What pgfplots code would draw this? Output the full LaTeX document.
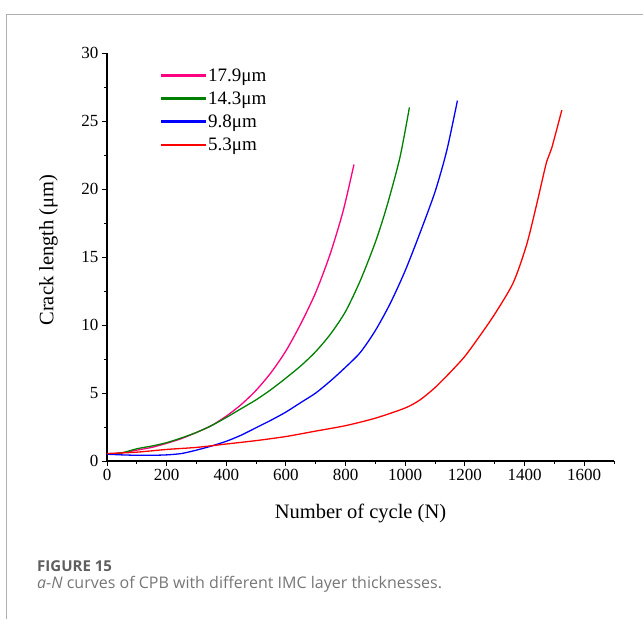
\documentclass[border=0pt]{standalone}
\usepackage{fontspec}
\setmainfont{Liberation Serif}
\newfontfamily\capfont{Open Sans}
\usepackage{pgfplots}
\pgfplotsset{compat=1.18}
\definecolor{cpink}{RGB}{255,0,128}
\definecolor{cgreen}{RGB}{0,128,0}
\definecolor{cblue}{RGB}{0,0,255}
\definecolor{cred}{RGB}{255,0,0}
\definecolor{capgray}{RGB}{95,95,95}
\definecolor{captext}{RGB}{118,118,118}
\definecolor{framegray}{RGB}{175,175,175}
\begin{document}
\begin{tikzpicture}[x=1pt,y=1pt]
\useasboundingbox (0,0) rectangle (643,619);
\draw[framegray, line width=1pt] (6,0) -- (6,604) -- (643,604);
\begin{axis}[
  at={(107pt,158pt)}, anchor=south west,
  scale only axis, width=507pt, height=408pt,
  xmin=0, xmax=1700, ymin=0, ymax=30,
  axis x line*=bottom, axis y line*=left,
  axis line style={-, line width=1.2pt, black},
  xtick={0,200,...,1600}, ytick={0,5,...,30},
  minor xtick={100,300,...,1700}, minor ytick={2.5,7.5,...,27.5},
  tick align=outside, major tick length=5pt, minor tick length=3pt,
  tick style={line width=1pt, black},
  /pgf/number format/assume math mode=true,
  /pgf/number format/1000 sep={},
  ticklabel style={font=\fontsize{17}{17}\selectfont},
  xlabel={Number of cycle (N)},
  ylabel={Crack length (μm)},
  label style={font=\fontsize{20.5}{20.5}\selectfont},
  xlabel style={at={(axis description cs:0.5,-0.1275)}, anchor=center},
  ylabel style={at={(axis description cs:-0.1154,0.517)}, anchor=center},
  legend style={draw=none, at={(axis description cs:0.100,0.972)}, anchor=north west,
    font=\fontsize{19}{19}\selectfont, row sep=5pt},
  legend cell align=left,
  legend image code/.code={\fill[#1] (0pt,-0.8pt) rectangle (44pt,0.8pt);},
  every axis plot/.append style={line width=1.3pt},
]
\addplot[cpink, smooth, tension=0.45] coordinates {(0,0.5)(50,0.6)(100,0.8)(150,1.0)(200,1.3)(250,1.65)(300,2.1)(350,2.6)(400,3.3)(450,4.15)(500,5.2)(550,6.5)(600,8.1)(650,10.1)(700,12.4)(748,15.2)(792,18.4)(828,21.8)};
\addlegendentry{17.9μm}
\addplot[cgreen, smooth, tension=0.45] coordinates {(0,0.5)(50,0.6)(100,0.9)(150,1.1)(200,1.35)(250,1.7)(300,2.1)(350,2.6)(400,3.2)(450,3.85)(500,4.5)(550,5.25)(600,6.1)(650,7.0)(700,8.05)(750,9.35)(800,11.0)(850,13.3)(900,16.1)(938,18.7)(982,22.3)(1014,26.0)};
\addlegendentry{14.3μm}
\addplot[cblue, smooth, tension=0.45] coordinates {(0,0.5)(50,0.45)(100,0.42)(150,0.42)(200,0.45)(250,0.55)(300,0.8)(350,1.1)(400,1.45)(450,1.9)(500,2.45)(550,3.0)(600,3.6)(650,4.3)(700,5.0)(750,5.9)(800,6.9)(850,8.0)(900,9.6)(950,11.6)(1000,14.0)(1050,16.8)(1100,19.8)(1139,22.8)(1175,26.5)};
\addlegendentry{9.8μm}
\addplot[cred, smooth, tension=0.45] coordinates {(0,0.55)(100,0.65)(200,0.85)(300,1.0)(400,1.25)(500,1.5)(600,1.8)(700,2.2)(800,2.6)(900,3.15)(1000,3.9)(1050,4.5)(1100,5.4)(1150,6.5)(1200,7.7)(1250,9.2)(1300,10.8)(1362,13.1)(1407,15.9)(1441,18.9)(1474,22.0)(1491,23.0)(1525,25.8)};
\addlegendentry{5.3μm}
\end{axis}
\node[anchor=west, inner sep=0, text=capgray, font=\capfont\fontsize{15}{15}\selectfont\bfseries] at (37,53) {FIGURE 15};
\node[anchor=west, inner sep=0, text=captext, font=\capfont\fontsize{16}{16}\selectfont] at (37,34.5) {\textit{a}-\textit{N} curves of CPB with different IMC layer thicknesses.};
\end{tikzpicture}
\end{document}
